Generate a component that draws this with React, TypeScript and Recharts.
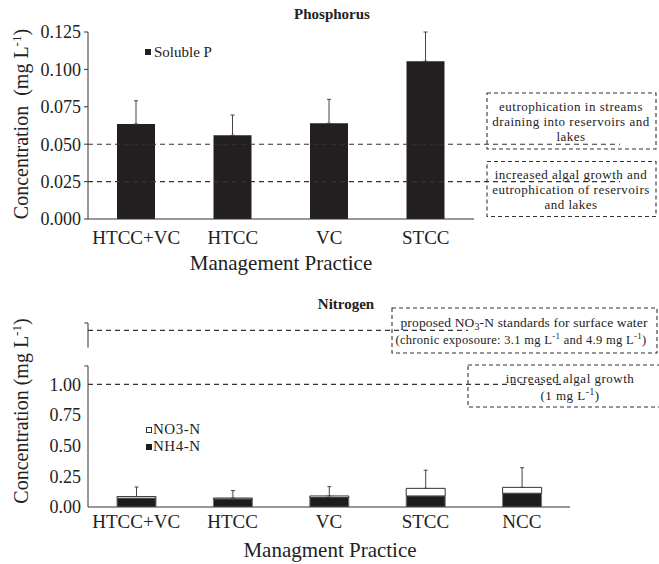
import React from 'react';
import { BarChart, Bar, XAxis, YAxis, ReferenceLine, ErrorBar } from 'recharts';

const serif = '"Liberation Serif", "Times New Roman", serif';

// phosphorus panel
const pCategories = ['HTCC+VC', 'HTCC', 'VC', 'STCC'];
const solubleP = [0.0635, 0.056, 0.064, 0.1055];
const solublePErr = [0.0155, 0.0135, 0.016, 0.0195];
const pTicks = [0, 0.025, 0.05, 0.075, 0.1, 0.125];
const pEutroStreams = 0.05;
const pAlgal = 0.025;

// nitrogen panel
const nCategories = ['HTCC+VC', 'HTCC', 'VC', 'STCC', 'NCC'];
const nh4 = [0.071, 0.065, 0.077, 0.09, 0.112];
const no3 = [0.014, 0.008, 0.013, 0.062, 0.048];
const nErr = [0.078, 0.061, 0.076, 0.148, 0.16];
const nTicks = [0, 0.25, 0.5, 0.75, 1.0];
const nAlgal = 1.0;
const nProposed = 1.44; // drawn above the axis break
const nBreakLow = 1.15;
const nBreakHigh = 1.3;
const nTop = 1.5;

const pData = pCategories.map((name, i) => ({ name, p: solubleP[i], pErr: [0, solublePErr[i]] }));
const nData = nCategories.map((name, i) => ({ name, nh4: nh4[i], no3: no3[i], nErr: [0, nErr[i]] }));

const tickStyle = { fill: '#222', fontSize: 18, fontFamily: serif };
const xTickStyle = { fill: '#222', fontSize: 19, fontFamily: serif };
const dash = { stroke: '#333', strokeDasharray: '5 4', strokeWidth: 1.1 };
const boxStyle = { fill: 'none', stroke: '#333', strokeDasharray: '4 3', strokeWidth: 1.1 };
const boxText = { fontSize: 13, letterSpacing: 0.5, textAnchor: 'middle' as const };

const App = () => {
  return (
    <div style={{ position: 'absolute', left: 0, top: 0, width: 659, height: 564, background: '#fff' }}>
      <div style={{ position: 'absolute', left: 0, top: 0 }}>
        <BarChart width={659} height={260} data={pData} margin={{ top: 32, right: 185, bottom: 0, left: 0 }}>
          <XAxis
            xAxisId="pos"
            type="number"
            domain={[0, 4]}
            ticks={[0, 1, 2, 3, 4]}
            allowDataOverflow
            height={0}
            axisLine={false}
            tickSize={4}
            tickFormatter={() => ''}
            stroke="#333"
          />
          <XAxis
            dataKey="name"
            height={41}
            tickLine={false}
            tickSize={0}
            tickMargin={12}
            interval={0}
            axisLine={{ stroke: '#333' }}
            tick={xTickStyle}
          />
          <YAxis
            width={88}
            domain={[0, 0.125]}
            ticks={pTicks}
            interval={0}
            tickFormatter={(v: number) => v.toFixed(3)}
            tickSize={4}
            tickMargin={3}
            stroke="#333"
            tick={tickStyle}
          />
          <ReferenceLine xAxisId="pos" segment={[{ x: 0, y: pEutroStreams }, { x: 4.135, y: pEutroStreams }]} ifOverflow="visible" {...dash} />
          <ReferenceLine xAxisId="pos" segment={[{ x: 0, y: pAlgal }, { x: 4.135, y: pAlgal }]} ifOverflow="visible" {...dash} />
          <Bar dataKey="p" fill="#231f20" barSize={38} isAnimationActive={false}>
            <ErrorBar dataKey="pErr" direction="y" width={2} stroke="#444" strokeWidth={1} />
          </Bar>
        </BarChart>
      </div>

      <div style={{ position: 'absolute', left: 0, top: 280 }}>
        <BarChart width={659} height={284} data={nData} margin={{ top: 43, right: 89, bottom: 0, left: 0 }}>
          <XAxis
            xAxisId="pos"
            type="number"
            domain={[0, 5]}
            ticks={[0, 1, 2, 3, 4, 5]}
            allowDataOverflow
            height={0}
            axisLine={false}
            tickSize={4}
            tickFormatter={() => ''}
            stroke="#333"
          />
          <XAxis
            dataKey="name"
            height={57}
            tickLine={false}
            tickSize={0}
            tickMargin={8}
            interval={0}
            axisLine={{ stroke: '#333' }}
            tick={xTickStyle}
          />
          <YAxis
            width={88}
            domain={[0, nTop]}
            ticks={nTicks}
            interval={0}
            allowDataOverflow
            tickFormatter={(v: number) => v.toFixed(2)}
            axisLine={false}
            tickLine={false}
            tickSize={4}
            tickMargin={3}
            tick={tickStyle}
          />
          {/* broken y axis */}
          <ReferenceLine xAxisId="pos" segment={[{ x: 0, y: 0 }, { x: 0, y: nBreakLow }]} ifOverflow="visible" stroke="#333" />
          <ReferenceLine xAxisId="pos" segment={[{ x: -0.03, y: nBreakLow }, { x: 0, y: nBreakLow }]} ifOverflow="visible" stroke="#333" />
          <ReferenceLine xAxisId="pos" segment={[{ x: 0, y: nBreakHigh }, { x: 0, y: nTop }]} ifOverflow="visible" stroke="#333" />
          <ReferenceLine xAxisId="pos" segment={[{ x: -0.03, y: nTop }, { x: 0, y: nTop }]} ifOverflow="visible" stroke="#333" />
          <ReferenceLine xAxisId="pos" segment={[{ x: 0, y: nProposed }, { x: 3.153, y: nProposed }]} ifOverflow="visible" {...dash} />
          <ReferenceLine xAxisId="pos" segment={[{ x: 0, y: nAlgal }, { x: 3.942, y: nAlgal }]} ifOverflow="visible" {...dash} />
          <Bar dataKey="nh4" stackId="n" fill="#1e1b1b" stroke="#777" barSize={39} isAnimationActive={false} />
          <Bar dataKey="no3" stackId="n" fill="#fff" stroke="#333" barSize={39} isAnimationActive={false}>
            <ErrorBar dataKey="nErr" direction="y" width={2} stroke="#444" strokeWidth={1} />
          </Bar>
        </BarChart>
      </div>

      <svg
        width={659}
        height={564}
        style={{ position: 'absolute', left: 0, top: 0, pointerEvents: 'none' }}
        fontFamily={serif}
        fill="#222"
      >
        {/* phosphorus annotations */}
        <text x={332} y={19} textAnchor="middle" fontSize={15} fontWeight="bold">Phosphorus</text>
        <rect x={145} y={49} width={6} height={6} fill="#231f20" />
        <text x={154} y={57} fontSize={15}>Soluble P</text>
        <text
          x={28}
          y={124}
          transform="rotate(-90 28 124)"
          textAnchor="middle"
          fontSize={20}
          style={{ whiteSpace: 'pre' }}
        >
          Concentration  (mg L<tspan dy={-7} fontSize={13}>-1</tspan><tspan dy={7}>)</tspan>
        </text>
        <text x={281} y={270} textAnchor="middle" fontSize={21}>Management Practice</text>

        <rect x={487} y={93} width={169} height={56} {...boxStyle} />
        <text x={571} y={111} {...boxText}>eutrophication in streams</text>
        <text x={571} y={126} {...boxText}>draining into reservoirs and</text>
        <text x={571} y={141} {...boxText}>lakes</text>

        <rect x={487} y={161.5} width={169} height={55} {...boxStyle} />
        <text x={571} y={179} {...boxText}>increased algal growth and</text>
        <text x={571} y={194} {...boxText}>eutrophication of reservoirs</text>
        <text x={571} y={209} {...boxText}>and lakes</text>

        {/* nitrogen annotations */}
        <text x={346} y={309} textAnchor="middle" fontSize={15} fontWeight="bold">Nitrogen</text>
        <rect x={146.5} y={427.5} width={5} height={5} fill="#fff" stroke="#333" />
        <text x={153} y={434} fontSize={15} letterSpacing={0.5}>NO3-N</text>
        <rect x={146} y={444} width={6} height={6} fill="#1e1b1b" />
        <text x={153} y={451} fontSize={15} letterSpacing={0.5}>NH4-N</text>
        <text
          x={28}
          y={411}
          transform="rotate(-90 28 411)"
          textAnchor="middle"
          fontSize={20}
          style={{ whiteSpace: 'pre' }}
        >
          Concentration (mg L<tspan dy={-7} fontSize={13}>-1</tspan><tspan dy={7}>)</tspan>
        </text>
        <text x={330} y={557} textAnchor="middle" fontSize={21}>Managment Practice</text>

        <rect x={392} y={308} width={265} height={45} {...boxStyle} />
        <text x={524} y={327} textAnchor="middle" fontSize={13.5} letterSpacing={0.15}>
          proposed NO<tspan dy={3} fontSize={10}>3</tspan><tspan dy={-3}>-N standards for surface water</tspan>
        </text>
        <text x={521} y={344} textAnchor="middle" fontSize={12.5} letterSpacing={0.3}>
          (chronic exposoure: 3.1 mg L<tspan dy={-5} fontSize={9}>-1</tspan><tspan dy={5}> and 4.9 mg L</tspan><tspan dy={-5} fontSize={9}>-1</tspan><tspan dy={5}>)</tspan>
        </text>

        <rect x={468} y={365} width={195} height={42} {...boxStyle} />
        <text x={570} y={383} {...boxText}>increased algal growth</text>
        <text x={570} y={400} {...boxText}>
          (1 mg L<tspan dy={-5} fontSize={9.5}>-1</tspan><tspan dy={5}>)</tspan>
        </text>
      </svg>
    </div>
  );
};

export default App;
